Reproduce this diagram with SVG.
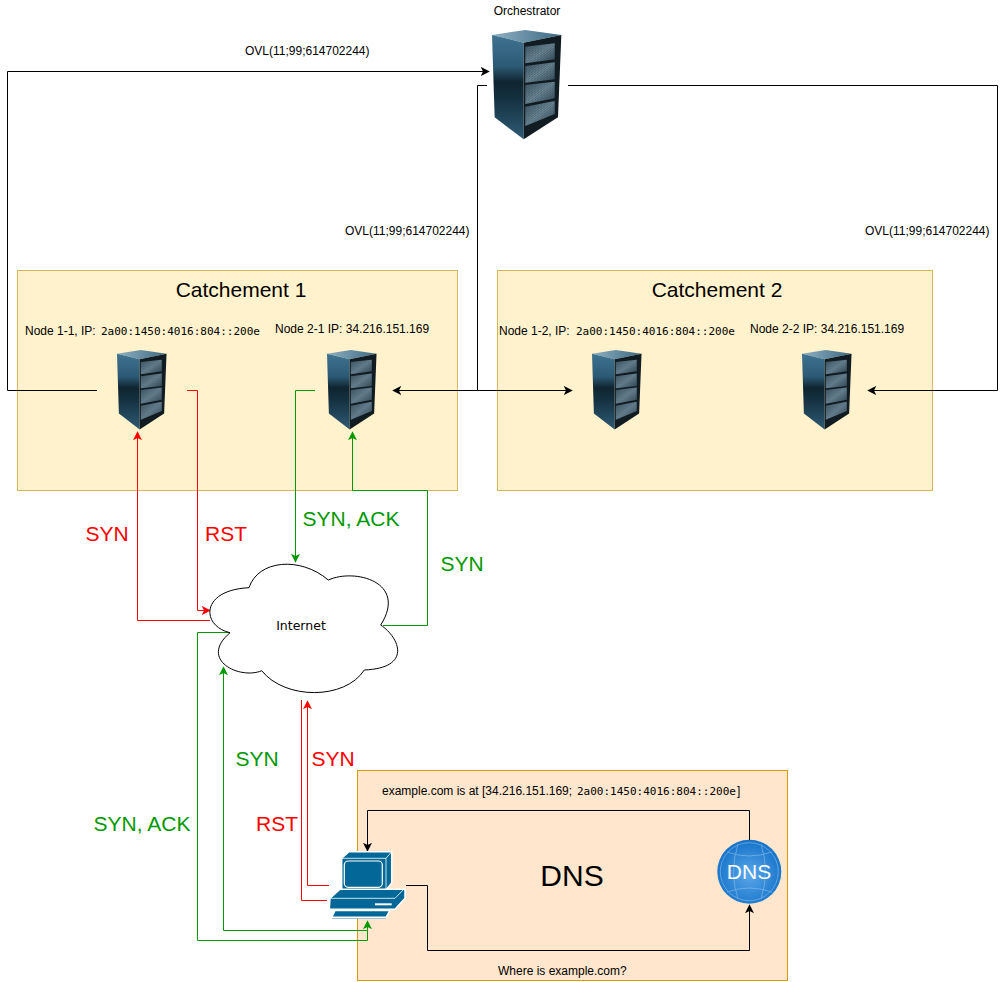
<svg xmlns="http://www.w3.org/2000/svg" xmlns:xlink="http://www.w3.org/1999/xlink" width="1007" height="982" viewBox="0 0 1007 982">
<style>
text{font-family:"Liberation Sans",Arial,sans-serif;fill:#000}
.s{font-size:12px}
.m{font-family:"DejaVu Sans Mono","Liberation Mono",monospace;font-size:11px}
.l{font-size:21px}
.r{fill:#ff0000}
.g{fill:#009900}
.c{fill:none;stroke-width:1}
.k{stroke:#000}
.rd{stroke:#ff0000}
.gn{stroke:#009900}
.pc{fill:#036897;stroke:#fff;stroke-width:1.500;stroke-linejoin:round}
</style>
<defs>
<marker id="ak" viewBox="0 0 10 10" refX="8" refY="5" markerWidth="9" markerHeight="9" markerUnits="userSpaceOnUse" orient="auto-start-reverse"><path d="M0 0L10 5L0 10L2.500 5Z" fill="#000"/></marker>
<marker id="ar" viewBox="0 0 10 10" refX="8" refY="5" markerWidth="9" markerHeight="9" markerUnits="userSpaceOnUse" orient="auto"><path d="M0 0L10 5L0 10L2.500 5Z" fill="#ff0000"/></marker>
<marker id="ag" viewBox="0 0 10 10" refX="8" refY="5" markerWidth="9" markerHeight="9" markerUnits="userSpaceOnUse" orient="auto"><path d="M0 0L10 5L0 10L2.500 5Z" fill="#009900"/></marker>
<linearGradient id="sl" x1="0" y1="0" x2="0" y2="1"><stop offset="0" stop-color="#3f7391"/><stop offset=".3" stop-color="#2c5a75"/><stop offset=".45" stop-color="#0f2530"/><stop offset=".6" stop-color="#14303f"/><stop offset="1" stop-color="#2e5b75"/></linearGradient>
<linearGradient id="tp" x1="0" y1="0" x2="1" y2="0"><stop offset="0" stop-color="#8fb0c2"/><stop offset="1" stop-color="#3d6a84"/></linearGradient>
<linearGradient id="pg" x1="0" y1="0" x2="1" y2="1"><stop offset="0" stop-color="#3d5563"/><stop offset=".5" stop-color="#6d8898"/><stop offset="1" stop-color="#2f4552"/></linearGradient>
<pattern id="tx" width="9" height="7" patternUnits="userSpaceOnUse"><path d="M0 1H4M5 4H9M2 6H6" stroke="#1c2c36" stroke-width="1.500" opacity=".6"/></pattern>
<radialGradient id="gl" cx=".5" cy=".55" r=".55"><stop offset="0" stop-color="#5ba7ea"/><stop offset="1" stop-color="#1472c8"/></radialGradient>
<symbol id="srv" viewBox="0 0 210 330" preserveAspectRatio="none">
<path d="M0 15L100 0L208 15L95 38Z" fill="url(#tp)"/>
<path d="M0 15L95 38V328L8 262Z" fill="url(#sl)"/>
<path d="M95 38L208 15L198 262L95 328Z" fill="#101b22"/>
<g id="panels">
<path d="M100 50L188 40V88L100 100Z" fill="url(#pg)"/>
<path d="M100 108L188 97V148L100 158Z" fill="url(#pg)"/>
<path d="M100 165L188 155V205L100 222Z" fill="url(#pg)"/>
<path d="M100 230L188 213V252L100 288Z" fill="url(#pg)"/>
<path d="M100 50L188 40V88L100 100ZM100 108L188 97V148L100 158ZM100 165L188 155V205L100 222ZM100 230L188 213V252L100 288Z" fill="url(#tx)"/>
</g>
</symbol>
</defs>
<rect width="1007" height="982" fill="#fff"/>
<g id="catchement-1"><rect x="17.500" y="270.500" width="440" height="220" fill="#fff2cc" stroke="#d6b656"/><text x="241" y="297" text-anchor="middle" class="l">Catchement 1</text></g>
<g id="catchement-2"><rect x="497.500" y="270.500" width="435" height="220" fill="#fff2cc" stroke="#d6b656"/><text x="717" y="297" text-anchor="middle" class="l">Catchement 2</text></g>
<g id="dns-zone"><rect x="357.500" y="770.500" width="430" height="210" fill="#ffe6cc" stroke="#d79b00"/><text x="572" y="886" text-anchor="middle" style="font-size:30px">DNS</text></g>
<g id="connectors">
<path class="c k" d="M97 390.500H7.500V71.500H488" marker-end="url(#ak)"/>
<path class="c k" d="M487 85.500H477.500V390.500"/>
<path class="c k" d="M394 390.500H571" marker-start="url(#ak)" marker-end="url(#ak)"/>
<path class="c k" d="M568 85.500H997.500V390.500H869" marker-end="url(#ak)"/>
<path class="c rd" d="M210 620.500H137.500V433" marker-end="url(#ar)"/>
<path class="c rd" d="M187 390.500H197.500V610.500H209" marker-end="url(#ar)"/>
<path class="c gn" d="M315 390.500H295.500V561" marker-end="url(#ag)"/>
<path class="c gn" d="M383 625.500H427.500V490.500H352.500V433" marker-end="url(#ag)"/>
<path class="c gn" d="M230 632.500H197.500V940.500H367.500V922" marker-end="url(#ag)"/>
<path class="c gn" d="M367.500 930.500H223.500V668" marker-end="url(#ag)"/>
<path class="c rd" d="M329 885.500H307.500V702" marker-end="url(#ar)"/>
<path class="c rd" d="M327 900.500H301.500V700"/>
<path class="c k" d="M406 885.500H427.500V950.500H749.500V906" marker-end="url(#ak)"/>
<path class="c k" d="M749.500 840V810.500H367.500V850" marker-end="url(#ak)"/>
</g>
<g id="orchestrator"><use href="#srv" xlink:href="#srv" x="492" y="30" width="70" height="110"/><text x="527" y="15" text-anchor="middle" class="s">Orchestrator</text></g>
<g id="node-1-1"><use href="#srv" xlink:href="#srv" x="117" y="350" width="50" height="80"/><text x="25" y="335" class="s">Node 1-1, IP: </text><text x="101" y="335" class="m">2a00:1450:4016:804::200e</text></g>
<g id="node-2-1"><use href="#srv" xlink:href="#srv" x="327" y="350" width="50" height="80"/><text x="275" y="333" class="s">Node 2-1 IP: 34.216.151.169</text></g>
<g id="node-1-2"><use href="#srv" xlink:href="#srv" x="592" y="350" width="50" height="80"/><text x="499" y="335" class="s">Node 1-2, IP: </text><text x="576" y="335" class="m">2a00:1450:4016:804::200e</text></g>
<g id="node-2-2"><use href="#srv" xlink:href="#srv" x="802" y="350" width="50" height="80"/><text x="750" y="333" class="s">Node 2-2 IP: 34.216.151.169</text></g>
<g id="internet"><path d="M249 587.700C258 560 300 556 328.300 580C355 568 408 582 380.700 625C400 638 412 668 364.300 670C345 700 285 700 261.700 670.700C240 680 198 660 230 632.700C201 626 200 590 249 587.700Z" fill="#fff" stroke="#000"/><text x="301" y="630" text-anchor="middle" style="font-size:12.500px;font-family:'DejaVu Sans',sans-serif">Internet</text></g>
<g id="client">
<path class="pc" d="M341.700 858.300L349 851.700H391.700V883L386 890H341.700Z"/>
<path d="M386 858.300L391.700 851.700M341.700 858.300H386V890" fill="none" stroke="#fff" stroke-width=".8"/>
<rect x="344.300" y="861" width="38" height="26.300" rx="4" fill="#036897" stroke="#fff" stroke-width="1.200"/>
<path class="pc" d="M330 898.300L340 889.300H405V898.300L395 909.300H329.300Z"/>
<path d="M375 904.300H391.700" stroke="#fff" stroke-width="2"/>
<path d="M330 898.300H395L405 888" fill="none" stroke="#fff" stroke-width=".8"/>
<path class="pc" d="M335 910.500H390L386 917.300H331.700Z"/>
<path d="M332 918.500H386" stroke="#9dc3d6" stroke-width="1"/>
</g>
<g id="dns-server">
<circle cx="749.300" cy="871.700" r="32" fill="url(#gl)"/>
<g fill="none" stroke="#8cc0ee" stroke-width="1" opacity=".6"><circle cx="749.300" cy="871.700" r="29"/><path d="M738 844Q729 872 738 899M761 844Q770 872 761 899M727 852Q749 860 772 852M727 892Q749 884 772 892"/></g>
<text x="749" y="879" text-anchor="middle" style="font-size:21px;fill:#fff">DNS</text>
</g>
<g id="labels">
<text x="245" y="55" class="s">OVL(11;99;614702244)</text>
<text x="345" y="235" class="s">OVL(11;99;614702244)</text>
<text x="865" y="235" class="s">OVL(11;99;614702244)</text>
<text x="107" y="541" text-anchor="middle" class="l r">SYN</text>
<text x="226" y="541" text-anchor="middle" class="l r">RST</text>
<text x="351" y="526" text-anchor="middle" class="l g">SYN, ACK</text>
<text x="462" y="571" text-anchor="middle" class="l g">SYN</text>
<text x="257" y="766" text-anchor="middle" class="l g">SYN</text>
<text x="333" y="766" text-anchor="middle" class="l r">SYN</text>
<text x="142" y="831" text-anchor="middle" class="l g">SYN, ACK</text>
<text x="277" y="831" text-anchor="middle" class="l r">RST</text>
<text x="382" y="795" class="s">example.com is at [34.216.151.169; </text><text x="577" y="795" class="m">2a00:1450:4016:804::200e</text><text x="737" y="795" class="s">]</text>
<text x="498" y="975" class="s">Where is example.com?</text>
</g>
</svg>
